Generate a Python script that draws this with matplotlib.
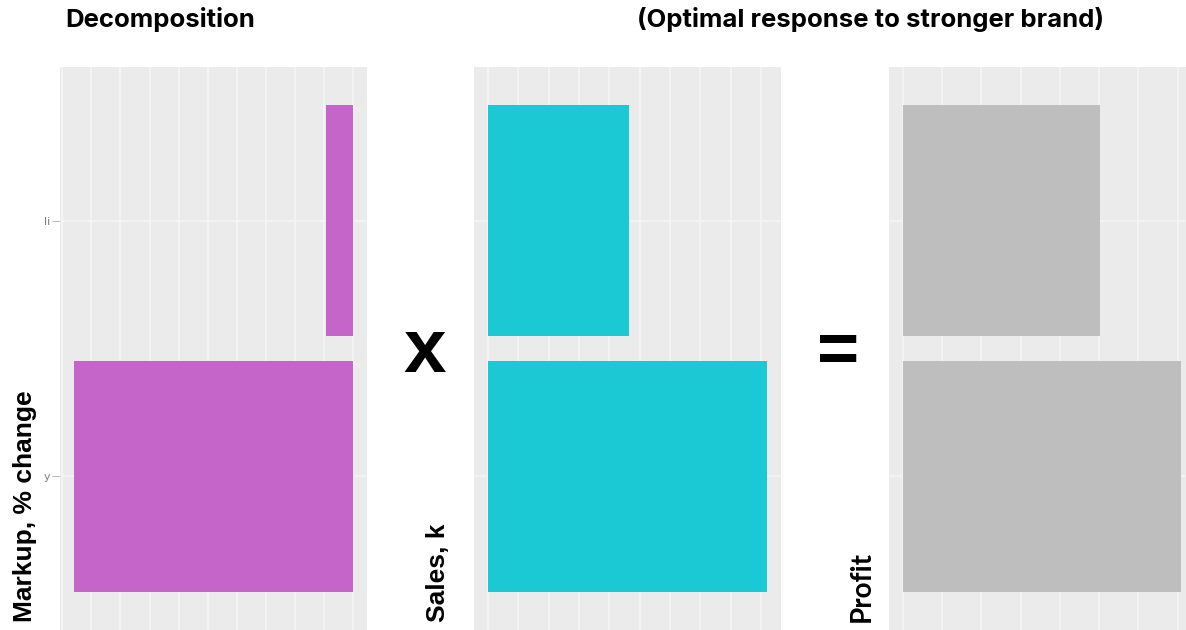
import matplotlib
matplotlib.use("Agg")
import matplotlib.pyplot as plt

W, H = 1186, 630

# Two categories per panel (bottom, top)
categories = [1, 2]
cat_labels = ["y", "li"]
markup = [9.6, 0.93]      # markup, % change
sales = [9.2, 4.65]       # sales, k
profit = [7.09, 5.03]     # profit

markup_color = "#C564C9"
sales_color = "#1AC9D3"
profit_color = "#BEBEBE"
panel_bg = "#EBEBEB"
grid_color = "#F5F5F5"

fig = plt.figure(figsize=(W / 100, H / 100), dpi=100)


def px_axes(left, right, top, bottom):
    return fig.add_axes([left / W, 1 - bottom / H, (right - left) / W, (bottom - top) / H])


def style_panel(ax, vmax, step_count, invert=False):
    ax.set_facecolor(panel_bg)
    for s in ax.spines.values():
        s.set_visible(False)
    pad = vmax * 0.05
    ax.set_xlim(-pad, vmax + pad)
    if invert:
        ax.invert_xaxis()
    ax.set_ylim(0.4, 2.6)
    ax.set_xticks(range(step_count + 1))
    ax.set_yticks(categories)
    ax.grid(True, color=grid_color, linewidth=1.2)
    ax.set_axisbelow(True)
    ax.tick_params(axis="x", length=0, labelbottom=False)


# Markup panel
ax1 = px_axes(60, 367, 67, 630)
ax1.barh(categories, markup, height=0.9, color=markup_color)
style_panel(ax1, max(markup), 10, invert=True)
ax1.set_yticklabels(cat_labels, fontsize=8, color="#7F7F7F")
ax1.tick_params(axis="y", length=6, color="#BDBDBD", pad=1)

# Sales panel
ax2 = px_axes(474, 781, 67, 630)
ax2.barh(categories, sales, height=0.9, color=sales_color)
style_panel(ax2, max(sales), 9)
ax2.tick_params(axis="y", length=0, labelleft=False)

# Profit panel
ax3 = px_axes(889, 1195, 67, 630)
ax3.barh(categories, profit, height=0.9, color=profit_color)
style_panel(ax3, max(profit), 7)
ax3.tick_params(axis="y", length=0, labelleft=False)

# Axis titles
fig.text(25 / W, 1 - 622 / H, "Markup, % change", rotation=90, ha="center", va="bottom",
         fontsize=19, fontweight="bold", family="Liberation Sans")
fig.text(438 / W, 1 - 622 / H, "Sales, k", rotation=90, ha="center", va="bottom",
         fontsize=19, fontweight="bold", family="Liberation Sans")
fig.text(862 / W, 1 - 622 / H, "Profit", rotation=90, ha="center", va="bottom",
         fontsize=20, fontweight="bold", family="Lato")

# Operators between panels
fig.text(425 / W, 1 - 372 / H, "x", ha="center", va="baseline",
         fontsize=55, fontweight="bold", family="Liberation Sans")
fig.text(838 / W, 1 - 372 / H, "=", ha="center", va="baseline",
         fontsize=52, fontweight="bold", family="Liberation Sans")

# Headings
fig.text(65 / W, 1 - 27 / H, "Decomposition", ha="left", va="baseline",
         fontsize=18.5, fontweight="bold", family="Inter")
fig.text(637 / W, 1 - 27 / H, "(Optimal response to stronger brand)", ha="left", va="baseline",
         fontsize=18.5, fontweight="bold", family="Inter")

fig.savefig("out.png", dpi=100)
